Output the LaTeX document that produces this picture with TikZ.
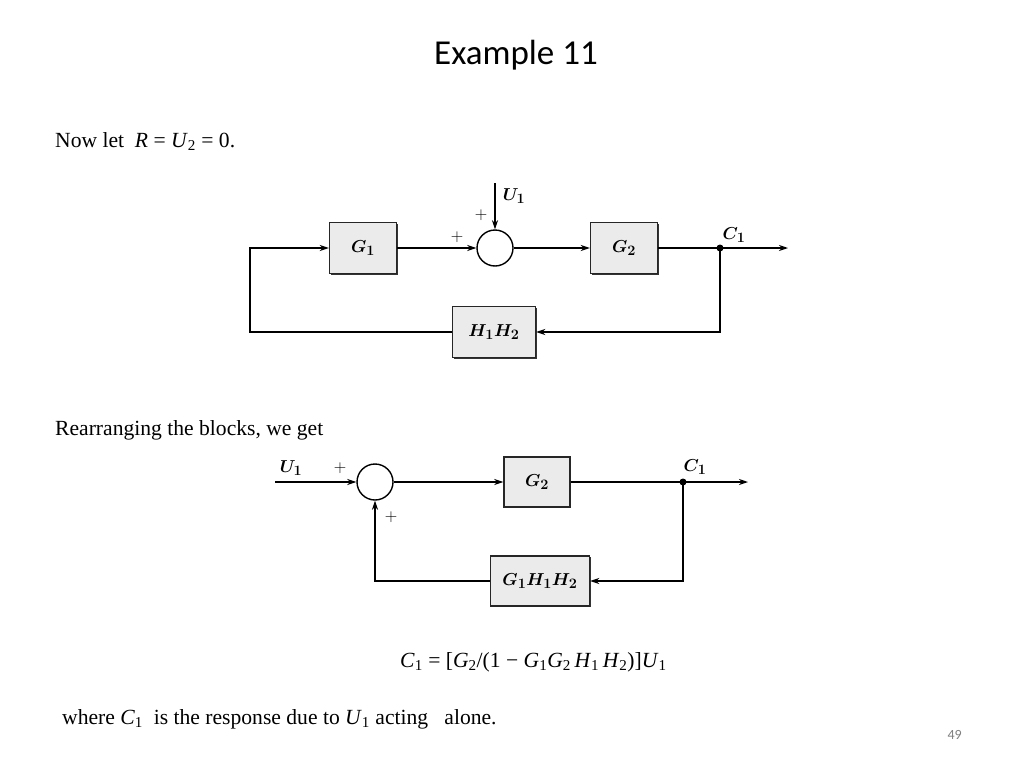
\documentclass[tikz,border=0pt]{standalone}
\usepackage{amsmath}
\usepackage[no-math]{fontspec}
\setmainfont{Liberation Serif}
\newfontfamily\titlefont{Carlito}
\usetikzlibrary{arrows.meta,shadows}
\begin{document}
\begin{tikzpicture}[x=1pt,y=-1pt,
  blk/.style={draw=black!85, line width=1.4pt, fill=black!8, minimum width=67pt, minimum height=51pt, inner sep=0pt, font=\fontsize{19}{21}\selectfont,
    drop shadow={shadow xshift=1pt, shadow yshift=-1.2pt, opacity=1, fill=black!80}},
  sumc/.style={draw, circle, line width=1.4pt, fill=white, minimum size=36pt, inner sep=0pt},
  ln/.style={line width=1.4pt},
  arr/.style={ln, -{Stealth[length=9pt,width=6pt]}},
  lab/.style={inner sep=0pt, font=\fontsize{19}{21}\selectfont},
  pls/.style={inner sep=0pt, font=\fontsize{17}{19}\selectfont},
  jdot/.style={circle, fill, inner sep=0pt, minimum size=7pt},
  txt/.style={anchor=base west, inner sep=0pt, font=\fontsize{21.6}{25}\selectfont},
]
\useasboundingbox (0,0) rectangle (1024,768);
\fill[white] (0,0) rectangle (1024,768);

% title and texts
\node[anchor=base, inner sep=0pt, font=\titlefont\fontsize{35}{40}\selectfont] (title) at (516,64) {Example 11};
\node[txt] (t1) at (55,147) {Now let\ \ \textit{R} = \textit{U}\textsubscript{2} = 0.};
\node[txt] (t2) at (55,435) {Rearranging the blocks, we get};
\node[txt] (eq) at (400,667) {\textit{C}\textsubscript{1} = [\textit{G}\textsubscript{2}/(1 − \textit{G}\textsubscript{1}\textit{G}\textsubscript{2}\,\textit{H}\textsubscript{1}\,\textit{H}\textsubscript{2})]\textit{U}\textsubscript{1}};
\node[txt] (t3) at (62,724) {where \textit{C}\textsubscript{1}\ \ is the response due to \textit{U}\textsubscript{1} acting\ \ \ alone.};
\node[anchor=base east, inner sep=0pt, text=black!50, font=\titlefont\fontsize{14}{16}\selectfont] (pg) at (962,739) {49};

% top diagram
\node[blk] (g1) at (363,248) {$\boldsymbol{G_1}$};
\node[sumc] (s1) at (495,248) {};
\node[blk] (g2) at (624,248) {$\boldsymbol{G_2}$};
\node[jdot] (j1) at (720,248) {};
\coordinate (o1) at (788,248);
\coordinate (u1) at (495,183);
\node[blk, minimum width=83pt] (h12) at (494,332) {$\boldsymbol{H_1H_2}$};
\coordinate (fl1) at (250,248);

\draw[arr] (g1.east) -- (s1.west);
\draw[arr] (s1.east) -- (g2.west);
\draw[ln] (g2.east) -- (j1.center);
\draw[arr] (j1.center) -- (o1);
\draw[arr] (u1) -- (s1.north);
\draw[arr] (j1.center) |- (h12.east);
\draw[arr] (h12.west) -| (fl1) -- (g1.west);

\node[pls] (p1) at (457,237) {$+$};
\node[pls] (p2) at (481,215) {$+$};
\node[lab] (lu1) at (514,196) {$\boldsymbol{U_1}$};
\node[lab] (lc1) at (734,235) {$\boldsymbol{C_1}$};

% bottom diagram
\coordinate (i2) at (275,482);
\node[sumc] (s2) at (375,482) {};
\node[blk, minimum width=66pt, minimum height=50pt] (g2b) at (537,482) {$\boldsymbol{G_2}$};
\node[jdot] (j2) at (683,482) {};
\coordinate (o2) at (748,482);
\node[blk, minimum width=99pt, minimum height=50pt] (fb2) at (540,581) {$\boldsymbol{G_1H_1H_2}$};

\draw[arr] (i2) -- (s2.west);
\draw[arr] (s2.east) -- (g2b.west);
\draw[ln] (g2b.east) -- (j2.center);
\draw[arr] (j2.center) -- (o2);
\draw[arr] (j2.center) |- (fb2.east);
\draw[arr] (fb2.west) -| (s2.south);

\node[lab] (lu2) at (291,468) {$\boldsymbol{U_1}$};
\node[pls] (p3) at (340,468) {$+$};
\node[pls] (p4) at (391,517) {$+$};
\node[lab] (lc2) at (695,467) {$\boldsymbol{C_1}$};
\end{tikzpicture}
\end{document}
